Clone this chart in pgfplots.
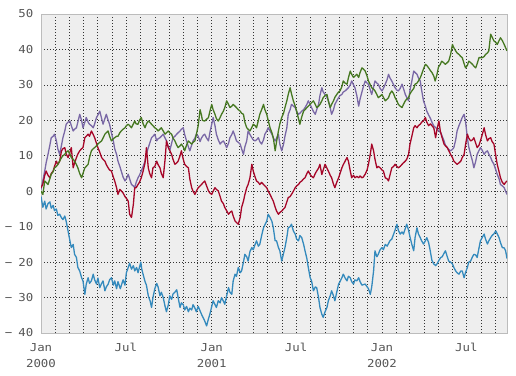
\documentclass[border=0pt]{standalone}
\usepackage{pgfplots}
\pgfplotsset{compat=1.18}
\usepackage{fontspec}
\setmainfont{DejaVu Sans Mono}[FakeStretch=1.13]
\definecolor{cA}{HTML}{348ABD}
\definecolor{cB}{HTML}{7A68A6}
\definecolor{cC}{HTML}{A60628}
\definecolor{cD}{HTML}{467821}
\definecolor{bgc}{HTML}{EEEEEE}
\definecolor{frc}{HTML}{BCBCBC}
\definecolor{tkc}{HTML}{555555}
\newcommand{\tl}[2]{\begin{tabular}{@{}c@{}}#1\\#2\end{tabular}}
\newcommand{\tm}[1]{\begin{tabular}{@{}c@{}}#1\end{tabular}}
\newcommand{\mn}{−\kern6bp}
\begin{document}
\begin{tikzpicture}
\useasboundingbox (-41bp,-43bp) rectangle (475bp,333bp);
\begin{axis}[
 at={(0,0)}, anchor=south west,
 scale only axis, width=466bp, height=319bp,
 xmin=0, xmax=999, ymin=-40, ymax=50,
 axis background/.style={fill=bgc},
 axis line style={frc, line width=1bp},
 xtick={0,182,366,547,731,912},
 xticklabels={\tl{Jan}{2000},\tm{Jul},\tl{Jan}{2001},\tm{Jul},\tl{Jan}{2002},\tm{Jul}},
 minor xtick={31,60,91,121,152,213,244,274,305,335,397,425,456,486,517,578,609,639,670,700,762,790,821,851,882,943,974},
 ytick={-40,-30,-20,-10,0,10,20,30,40,50},
 yticklabels={\mn40,\mn30,\mn20,\mn10,0,10,20,30,40,50},
 xticklabel style={font=\fontsize{11}{16}\selectfont, text=tkc, inner sep=0pt, anchor=north, yshift=-7bp},
 yticklabel style={font=\fontsize{11}{13}\selectfont, text=tkc, inner sep=0pt, xshift=-7.5bp},
 major tick length=0pt, minor tick length=0pt,
 grid=both,
 major grid style={black!80, line width=0.6bp, dash pattern=on 0.6bp off 2.4bp},
 minor grid style={black!80, line width=0.6bp, dash pattern=on 0.6bp off 2.4bp},
 every axis plot/.append style={line width=1.3bp, line join=round, mark=none},
]
\addplot[cA] coordinates {(0,-1.5) (4,-4.5) (8,-2.8) (11,-5.0) (15,-3.5) (19,-3.0) (22,-4.8) (26,-4.0) (29,-5.5) (33,-5.0) (36,-6.8) (40,-6.5) (44,-7.5) (47,-8.0) (51,-7.0) (54,-8.5) (58,-11.2) (62,-14.0) (65,-15.9) (69,-15.0) (72,-17.8) (76,-18.7) (79,-21.5) (83,-22.5) (87,-24.4) (90,-25.3) (94,-29.1) (97,-26.2) (101,-24.4) (104,-26.0) (108,-25.3) (112,-23.4) (115,-25.0) (119,-26.2) (122,-24.5) (126,-27.2) (130,-26.0) (133,-25.3) (137,-28.1) (140,-27.0) (144,-26.2) (147,-25.0) (151,-24.4) (155,-26.5) (158,-25.3) (162,-27.5) (165,-25.5) (170,-27.5) (176,-25.0) (180,-26.5) (183,-23.0) (187,-21.5) (190,-20.3) (194,-22.0) (198,-21.0) (201,-22.5) (205,-21.5) (208,-23.0) (211,-21.5) (214,-20.0) (216,-22.0) (219,-23.5) (223,-25.5) (226,-26.5) (230,-29.5) (234,-31.0) (237,-32.8) (240,-30.0) (244,-27.5) (248,-26.0) (251,-27.0) (255,-29.5) (258,-28.5) (262,-30.0) (266,-32.5) (269,-34.0) (273,-32.0) (276,-29.5) (280,-30.5) (283,-29.0) (287,-28.5) (291,-27.8) (294,-30.0) (298,-32.8) (301,-31.5) (305,-32.0) (308,-33.5) (312,-32.5) (316,-34.0) (319,-33.0) (323,-33.5) (326,-32.0) (330,-33.0) (333,-34.0) (337,-32.5) (344,-34.7) (351,-36.6) (355,-38.0) (359,-36.0) (362,-34.7) (366,-32.5) (369,-30.9) (373,-32.0) (376,-32.8) (380,-30.9) (384,-31.5) (387,-30.0) (391,-31.0) (394,-31.9) (398,-29.5) (402,-27.2) (405,-28.5) (409,-29.1) (412,-25.3) (416,-23.4) (419,-24.0) (423,-21.5) (427,-23.0) (430,-22.5) (434,-20.0) (437,-17.8) (441,-18.5) (444,-19.7) (448,-17.0) (452,-15.9) (455,-16.5) (459,-15.0) (462,-14.0) (466,-15.5) (469,-15.0) (473,-12.5) (477,-10.3) (480,-9.5) (484,-8.4) (487,-6.5) (491,-7.4) (495,-8.5) (498,-10.3) (502,-14.0) (505,-14.0) (509,-15.9) (512,-16.8) (516,-19.7) (520,-17.5) (523,-15.9) (527,-13.0) (530,-10.3) (534,-10.0) (537,-9.3) (541,-11.2) (545,-12.1) (548,-13.5) (552,-14.0) (555,-12.5) (559,-13.1) (563,-15.0) (566,-16.8) (570,-19.0) (573,-21.5) (577,-24.4) (580,-25.3) (584,-28.1) (588,-27.0) (591,-27.2) (595,-30.0) (598,-32.8) (602,-34.7) (605,-35.6) (609,-34.0) (613,-32.8) (616,-30.9) (620,-29.5) (623,-28.1) (627,-29.5) (630,-30.9) (634,-28.5) (638,-26.2) (641,-25.5) (645,-24.4) (648,-23.4) (652,-24.5) (656,-25.3) (659,-24.0) (663,-24.4) (666,-25.5) (670,-26.2) (673,-25.0) (677,-25.3) (681,-24.4) (684,-25.5) (688,-26.5) (695,-26.2) (702,-27.5) (706,-29.1) (709,-27.0) (713,-22.5) (716,-16.8) (720,-18.5) (723,-17.8) (727,-16.5) (731,-15.9) (734,-16.5) (738,-15.0) (742,-15.5) (748,-14.0) (752,-13.5) (756,-12.1) (759,-11.0) (763,-9.3) (766,-11.0) (770,-12.1) (774,-11.5) (777,-12.1) (781,-10.5) (784,-9.3) (788,-11.0) (791,-12.9) (795,-15.0) (799,-16.8) (802,-13.0) (806,-10.3) (809,-12.0) (813,-13.1) (816,-14.0) (820,-14.9) (824,-14.0) (827,-13.1) (831,-14.5) (834,-16.5) (838,-19.5) (842,-20.5) (846,-21.0) (849,-20.5) (853,-19.5) (857,-18.7) (860,-18.5) (864,-17.5) (867,-16.8) (871,-18.5) (874,-19.7) (878,-20.0) (882,-20.5) (885,-21.5) (889,-22.5) (892,-23.0) (896,-23.4) (900,-22.5) (903,-22.5) (907,-24.4) (910,-23.0) (914,-21.5) (917,-20.0) (921,-19.7) (925,-18.5) (928,-17.8) (932,-18.0) (935,-18.7) (939,-16.0) (942,-14.0) (946,-13.0) (950,-12.1) (953,-13.5) (957,-14.9) (960,-14.0) (964,-13.1) (967,-12.5) (971,-12.0) (975,-11.2) (978,-12.0) (982,-13.1) (985,-14.5) (989,-15.9) (993,-16.0) (996,-16.8) (999,-19.0)};
\addplot[cB] coordinates {(0,0.5) (4,3.0) (8,5.7) (11,8.0) (15,10.4) (19,13.0) (22,15.1) (26,15.5) (29,16.1) (33,14.2) (36,12.0) (40,10.4) (44,13.0) (47,15.1) (51,17.0) (54,18.9) (58,19.5) (62,19.8) (65,18.5) (69,17.0) (72,17.5) (76,17.9) (79,19.5) (83,21.7) (87,20.0) (90,17.9) (94,19.5) (97,20.8) (101,19.5) (104,18.9) (108,18.5) (112,17.9) (115,19.0) (119,20.8) (122,21.5) (126,22.6) (130,20.5) (133,18.9) (137,20.5) (140,21.7) (144,20.0) (147,18.9) (151,16.5) (155,14.2) (158,12.0) (162,10.4) (165,8.5) (169,7.0) (172,5.7) (176,4.0) (180,2.9) (183,3.5) (187,4.8) (190,3.5) (194,1.9) (198,1.5) (201,1.0) (204,2.5) (208,3.8) (211,4.5) (215,5.7) (219,7.0) (223,8.5) (226,10.5) (230,12.3) (233,13.5) (237,15.1) (240,15.5) (244,16.1) (248,14.2) (251,14.8) (255,15.1) (258,15.5) (262,16.1) (266,15.0) (269,14.2) (273,12.5) (276,11.4) (280,13.5) (283,15.1) (287,15.5) (291,16.1) (294,16.5) (298,17.0) (301,17.5) (305,17.9) (308,16.0) (312,14.2) (316,12.5) (319,11.4) (323,13.0) (326,14.2) (330,15.0) (333,16.1) (337,15.5) (341,14.0) (344,15.0) (348,15.8) (351,16.1) (355,15.0) (359,14.2) (362,16.5) (366,18.9) (369,20.8) (373,18.5) (376,16.1) (380,14.5) (384,13.3) (387,13.8) (391,14.2) (394,13.5) (398,12.3) (402,13.5) (405,15.1) (409,16.0) (412,17.0) (416,15.5) (419,14.2) (423,13.8) (427,13.3) (430,12.0) (434,10.4) (437,12.5) (441,14.2) (444,17.0) (448,16.0) (452,15.1) (455,14.5) (459,14.2) (462,14.5) (466,15.1) (469,14.0) (473,13.3) (477,14.5) (480,16.1) (484,17.0) (487,17.9) (491,17.0) (495,16.1) (498,15.0) (502,14.2) (505,15.0) (509,16.1) (512,13.3) (516,11.4) (520,13.3) (523,15.5) (527,17.9) (530,21.7) (534,23.0) (537,24.5) (541,24.0) (545,23.6) (548,22.5) (552,21.7) (555,22.0) (559,22.6) (563,23.0) (566,23.6) (570,24.5) (573,25.5) (577,24.5) (580,23.6) (584,22.5) (588,21.7) (591,23.0) (595,24.5) (598,27.0) (602,29.2) (605,28.0) (609,27.3) (613,26.5) (616,25.5) (620,23.5) (623,21.7) (627,23.0) (630,24.5) (634,25.5) (638,26.4) (641,27.0) (645,27.3) (648,28.0) (652,28.3) (656,28.8) (659,29.2) (663,30.0) (666,31.1) (670,30.0) (673,29.2) (677,27.0) (681,24.0) (684,26.0) (688,28.0) (691,29.5) (695,31.1) (699,30.5) (702,30.2) (706,28.5) (709,27.3) (713,29.5) (716,31.1) (720,30.5) (723,30.2) (727,29.0) (731,28.3) (734,29.0) (738,30.2) (742,31.5) (745,33.0) (748,32.0) (752,31.1) (756,30.0) (759,29.2) (763,28.5) (766,28.3) (770,29.0) (774,30.2) (777,29.0) (781,27.3) (784,26.5) (788,25.5) (791,28.5) (795,31.1) (799,33.9) (802,33.5) (806,33.0) (809,32.0) (813,31.1) (816,28.5) (820,25.5) (824,24.0) (827,22.6) (831,21.5) (835,20.5) (838,19.5) (842,18.4) (846,18.0) (849,17.5) (853,17.0) (857,16.5) (860,15.5) (864,14.2) (867,13.0) (871,12.3) (874,11.8) (878,11.4) (882,11.8) (885,12.3) (889,14.5) (892,17.0) (896,18.5) (900,19.8) (903,20.8) (907,21.7) (910,19.8) (914,15.1) (917,12.5) (921,10.4) (925,8.5) (928,6.6) (932,8.5) (935,10.4) (939,11.5) (942,12.3) (946,11.5) (950,10.4) (953,11.0) (957,11.4) (960,10.5) (964,9.5) (967,8.5) (971,7.6) (975,6.0) (978,4.8) (982,3.5) (985,1.9) (989,1.5) (993,1.0) (996,0.0) (999,-0.9)};
\addplot[cC] coordinates {(0,1.0) (4,2.0) (8,4.5) (11,5.7) (15,4.5) (19,3.8) (22,5.0) (26,5.7) (29,7.0) (33,8.5) (36,7.5) (40,8.5) (44,11.4) (47,12.0) (51,12.3) (54,10.5) (58,9.5) (62,11.0) (65,12.3) (69,6.6) (72,8.0) (76,9.5) (79,10.5) (83,11.4) (87,12.0) (90,12.3) (94,15.1) (97,15.5) (101,16.1) (104,15.5) (108,17.0) (112,16.0) (115,15.1) (119,13.5) (122,12.3) (126,11.0) (130,9.5) (133,9.0) (137,8.5) (140,7.5) (144,6.6) (147,6.0) (151,5.7) (155,4.0) (158,2.9) (162,1.0) (165,-0.9) (169,0.5) (172,0.1) (176,-0.5) (180,-1.5) (183,-2.0) (187,-2.8) (190,-6.5) (194,-7.4) (198,-3.7) (201,1.0) (204,1.0) (208,1.9) (211,2.5) (215,3.8) (219,5.7) (223,8.0) (226,12.3) (230,6.6) (233,5.0) (237,3.8) (240,6.6) (244,7.0) (248,8.5) (251,7.5) (255,6.6) (258,5.0) (262,3.8) (266,9.0) (269,14.2) (273,12.3) (276,11.5) (280,10.4) (283,9.0) (287,7.6) (291,8.0) (294,8.5) (298,10.0) (301,11.4) (305,9.0) (308,7.6) (312,7.0) (316,6.6) (319,3.5) (323,1.0) (326,0.0) (330,-0.9) (333,0.0) (337,1.0) (341,1.5) (344,1.9) (348,2.5) (351,2.9) (355,1.5) (359,0.1) (362,-0.5) (366,-0.9) (369,0.0) (373,1.0) (376,0.5) (380,0.1) (384,-1.5) (387,-2.8) (391,-3.5) (394,-4.6) (398,-5.5) (402,-6.5) (405,-6.0) (409,-5.6) (412,-7.0) (416,-8.4) (419,-8.8) (423,-9.3) (427,-7.4) (430,-4.6) (434,-2.8) (437,-1.0) (441,1.0) (444,1.9) (448,3.8) (452,7.6) (455,5.7) (459,4.0) (462,2.9) (466,2.5) (469,1.9) (473,2.5) (477,1.9) (480,1.5) (484,1.0) (487,0.0) (491,-0.9) (495,-2.0) (498,-2.8) (502,-4.5) (505,-5.6) (509,-6.5) (512,-6.0) (516,-5.6) (520,-5.0) (523,-4.6) (527,-3.0) (530,-1.8) (534,-1.5) (537,-0.9) (541,0.0) (545,1.0) (548,1.5) (552,1.9) (555,2.5) (559,2.9) (563,3.5) (566,3.8) (570,5.0) (573,5.7) (577,4.7) (580,4.2) (584,3.8) (588,5.0) (591,5.7) (595,6.5) (598,7.6) (602,4.7) (605,6.0) (609,7.6) (613,6.5) (616,5.7) (620,4.5) (623,3.8) (627,2.0) (630,1.0) (634,2.5) (638,3.8) (641,5.0) (645,6.6) (648,7.5) (652,8.5) (656,9.5) (659,8.5) (663,5.7) (666,3.8) (670,4.5) (673,3.8) (677,4.2) (681,3.8) (684,4.3) (688,3.8) (691,4.0) (695,4.8) (699,6.0) (702,7.6) (706,10.5) (709,13.3) (713,11.4) (716,9.0) (720,6.6) (723,7.0) (727,6.6) (731,6.0) (734,5.7) (738,3.8) (742,3.5) (745,2.9) (748,4.5) (752,6.6) (756,7.0) (759,7.6) (763,7.0) (766,6.6) (770,7.0) (774,7.6) (777,8.0) (781,8.5) (784,9.0) (788,10.4) (791,13.3) (795,15.5) (799,17.9) (802,18.5) (806,17.9) (809,18.5) (813,18.9) (816,19.5) (820,19.8) (824,20.8) (827,19.5) (831,18.5) (835,19.0) (838,18.5) (842,17.9) (846,15.1) (849,17.5) (853,19.8) (856,17.0) (859,15.5) (864,13.3) (867,12.8) (871,12.3) (874,11.5) (878,10.4) (882,9.5) (885,8.5) (889,8.0) (892,7.6) (896,8.0) (900,8.5) (903,9.5) (907,10.4) (910,13.0) (914,16.1) (917,15.0) (921,14.2) (925,14.5) (928,15.1) (932,13.5) (935,12.3) (939,13.0) (942,14.2) (946,16.0) (950,17.9) (953,16.0) (957,14.2) (960,14.8) (964,15.1) (967,14.0) (971,13.3) (975,10.0) (978,7.6) (982,5.5) (985,3.8) (989,2.5) (993,1.9) (996,2.5) (999,2.9)};
\addplot[cD] coordinates {(0,0.0) (4,-0.9) (8,2.9) (11,2.5) (15,1.9) (19,3.5) (22,4.8) (26,5.5) (29,6.6) (33,7.0) (36,7.6) (40,8.5) (44,9.5) (47,10.0) (51,10.4) (54,11.0) (58,11.4) (62,10.5) (65,9.5) (69,9.0) (72,8.5) (76,7.5) (79,6.6) (83,5.0) (87,3.8) (90,5.0) (94,6.6) (97,7.0) (101,7.6) (104,9.5) (108,11.4) (112,12.0) (115,12.3) (119,12.8) (122,13.3) (126,13.8) (130,14.2) (133,15.0) (137,16.1) (140,16.5) (144,17.0) (147,15.5) (151,14.2) (155,14.8) (158,15.1) (162,15.5) (165,15.5) (169,16.5) (172,17.0) (176,17.5) (180,17.9) (183,18.5) (187,18.9) (190,18.5) (194,17.9) (198,19.0) (201,19.8) (204,19.0) (208,18.9) (211,20.0) (215,20.8) (219,19.0) (223,17.9) (226,19.0) (230,19.8) (233,19.5) (237,18.9) (240,18.5) (244,17.9) (248,17.5) (251,17.0) (255,17.5) (258,17.9) (262,17.0) (266,16.1) (269,16.5) (273,17.0) (276,16.5) (280,16.1) (283,15.0) (287,14.2) (291,13.0) (294,12.3) (298,12.8) (301,13.3) (305,12.5) (308,11.4) (312,13.0) (316,14.2) (319,13.8) (323,13.3) (326,13.8) (330,14.2) (333,16.0) (337,18.5) (341,23.0) (344,21.5) (346,20.0) (351,19.8) (355,20.3) (359,20.8) (362,22.5) (366,24.5) (369,23.0) (373,21.7) (376,20.5) (380,19.8) (384,20.8) (387,21.7) (391,22.6) (394,23.6) (398,25.5) (402,24.5) (405,23.6) (409,24.0) (412,24.5) (416,24.0) (419,23.6) (423,23.0) (427,22.6) (430,22.0) (434,21.7) (437,19.5) (441,17.9) (444,17.5) (448,17.0) (452,18.0) (455,18.9) (459,18.5) (462,17.9) (466,20.0) (469,21.7) (473,23.0) (477,24.5) (480,23.0) (484,21.7) (487,20.0) (491,17.9) (495,16.5) (498,15.1) (502,11.4) (505,14.0) (509,17.0) (512,19.0) (516,20.8) (520,22.0) (523,23.6) (527,25.5) (530,27.3) (534,29.2) (537,27.5) (541,25.5) (545,24.0) (548,22.6) (552,20.5) (555,18.9) (559,21.0) (563,22.6) (566,23.0) (570,23.6) (573,24.0) (577,24.5) (580,25.0) (584,25.5) (588,24.5) (591,23.6) (595,24.0) (598,24.5) (602,25.5) (605,26.4) (609,27.0) (613,27.3) (616,25.5) (620,23.6) (623,24.5) (627,25.5) (630,26.5) (634,27.3) (638,28.0) (641,28.3) (645,29.5) (648,31.1) (652,30.5) (656,30.2) (659,32.0) (663,33.9) (666,33.0) (670,32.1) (673,32.5) (677,33.0) (681,32.1) (684,33.5) (688,34.8) (691,34.5) (695,33.9) (699,32.5) (702,31.1) (706,30.0) (709,29.2) (713,28.8) (716,28.3) (720,27.3) (723,26.4) (727,26.8) (731,27.3) (734,26.5) (738,25.5) (742,26.0) (745,26.4) (748,27.5) (752,28.3) (756,27.5) (759,26.4) (763,25.5) (766,24.5) (770,24.0) (774,23.6) (777,24.5) (781,25.5) (784,26.0) (788,26.4) (791,27.5) (795,28.3) (799,29.0) (802,30.2) (806,30.5) (809,31.1) (813,32.0) (816,33.0) (820,34.5) (824,35.8) (827,35.5) (831,34.8) (835,34.0) (838,33.5) (842,32.5) (845,31.1) (849,33.0) (852,35.0) (856,35.8) (859,36.7) (863,36.3) (867,35.8) (871,36.3) (874,36.7) (878,38.5) (882,41.4) (885,40.5) (889,39.6) (892,39.0) (896,38.6) (900,38.0) (903,37.7) (907,36.0) (910,34.8) (914,35.5) (917,36.7) (921,36.3) (925,35.8) (928,35.3) (932,34.8) (935,36.0) (939,37.7) (942,37.7) (946,37.7) (950,38.0) (953,38.6) (957,39.0) (960,39.6) (964,44.3) (967,43.5) (971,42.4) (975,42.0) (978,41.4) (982,42.5) (985,43.3) (989,42.5) (993,41.4) (996,40.5) (999,39.6)};
\end{axis}
\end{tikzpicture}
\end{document}
